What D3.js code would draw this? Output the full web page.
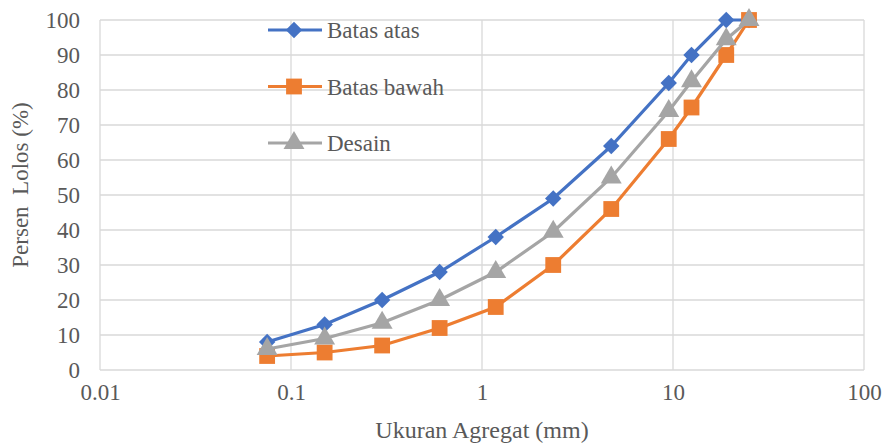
<!DOCTYPE html>
<html>
<head>
<meta charset="utf-8">
<script src="https://cdn.jsdelivr.net/npm/d3@7"></script>
<style>
  body { margin: 0; background: #fff; }
  svg text { font-family: "Liberation Serif", "Tinos", "Times New Roman", "DejaVu Serif", serif !important; fill: #595959; }
</style>
</head>
<body>
<div id="chart"></div>
<script>
// sieve sizes (mm) and percent passing
var sizes = [0.075, 0.15, 0.3, 0.6, 1.18, 2.36, 4.75, 9.5, 12.5, 19, 25];
var batasAtas = [8, 13, 20, 28, 38, 49, 64, 82, 90, 100, 100];
var batasBawah = [4, 5, 7, 12, 18, 30, 46, 66, 75, 90, 100];
var desain = [6, 9, 13.5, 20, 28, 39.5, 55, 74, 82.5, 94.5, 100];
var xTicks = [0.01, 0.1, 1, 10, 100];
var yTicks = [0, 10, 20, 30, 40, 50, 60, 70, 80, 90, 100];
var seriesNames = ["Batas atas", "Batas bawah", "Desain"];

var W = 887, H = 444;
var margin = {left: 100, right: 23, top: 20, bottom: 74};
var width = W - margin.left - margin.right,
    height = H - margin.top - margin.bottom;
var fs = "23px";
var font = "Liberation Serif";

var x = d3.scaleLog().domain([0.01, 100]).range([0, width]);
var y = d3.scaleLinear().domain([0, 100]).range([height, 0]);

var svg = d3.select("#chart").append("svg")
    .attr("width", W)
    .attr("height", H)
    .append("g")
    .attr("transform", "translate(" + margin.left + "," + margin.top + ")");

// gridlines
svg.selectAll(".hgrid")
    .data(yTicks)
    .enter()
    .append("line")
    .attr("x1", 0).attr("x2", width)
    .attr("y1", function(d) { return y(d); })
    .attr("y2", function(d) { return y(d); })
    .attr("stroke", "#d9d9d9").attr("stroke-width", 1.3);

svg.selectAll(".vgrid")
    .data(xTicks)
    .enter()
    .append("line")
    .attr("y1", 0).attr("y2", height)
    .attr("x1", function(d) { return x(d); })
    .attr("x2", function(d) { return x(d); })
    .attr("stroke", "#d9d9d9").attr("stroke-width", 1.3);

// axes
var xAxis = d3.axisBottom(x).tickValues(xTicks).tickSize(0).tickPadding(14)
    .tickFormat(function(d) { return String(d); });
var yAxis = d3.axisLeft(y).tickValues(yTicks).tickSize(0).tickPadding(20);

svg.append("g")
    .attr("transform", "translate(0," + height + ")")
    .call(xAxis)
    .attr("font-family", font)
    .call(function(g) { g.select(".domain").remove(); })
    .selectAll("text").style("font-size", fs);

svg.append("g")
    .call(yAxis)
    .attr("font-family", font)
    .call(function(g) { g.select(".domain").remove(); })
    .selectAll("text").style("font-size", fs);

svg.append("text")
    .attr("x", width / 2 - 0)
    .attr("y", height + 68)
    .attr("text-anchor", "middle")
    .style("font-size", "24px")
    .text("Ukuran Agregat (mm)");

svg.append("text")
    .attr("transform", "translate(-72," + (height / 2 - 10) + ") rotate(-90)")
    .attr("text-anchor", "middle")
    .style("font-size", fs)
    .attr("xml:space", "preserve")
    .text("Persen  Lolos (%)");

// diamond = square turned 45 degrees
var series = [
    {name: seriesNames[0], values: batasAtas, color: "#4472C4", symbol: d3.symbolSquare, size: 135, rot: 45},
    {name: seriesNames[1], values: batasBawah, color: "#ED7D31", symbol: d3.symbolSquare, size: 250, rot: 0},
    {name: seriesNames[2], values: desain, color: "#A5A5A5", symbol: d3.symbolTriangle, size: 190, rot: 0}
];

var line = d3.line()
    .x(function(d) { return x(d[0]); })
    .y(function(d) { return y(d[1]); });

// series drawn in order, last one ends up on top (like excel)
series.forEach(function(s) {
    var pts = sizes.map(function(v, i) { return [v, s.values[i]]; });
    svg.append("path")
        .datum(pts)
        .attr("d", line)
        .attr("fill", "none")
        .attr("stroke", s.color)
        .attr("stroke-width", 3.2);
    svg.selectAll(".m")
        .data(pts)
        .enter()
        .append("path")
        .attr("d", d3.symbol().type(s.symbol).size(s.size))
        .attr("transform", function(d) {
            return "translate(" + x(d[0]) + "," + y(d[1]) + ") rotate(" + s.rot + ")";
        })
        .attr("fill", s.color);
});

// legend
var legend = svg.append("g").attr("transform", "translate(168,10)");
series.forEach(function(s, i) {
    var g = legend.append("g").attr("transform", "translate(0," + (i * 56.5) + ")");
    g.append("line").attr("x1", 0).attr("x2", 54).attr("y1", 0).attr("y2", 0)
        .attr("stroke", s.color).attr("stroke-width", 3.2);
    g.append("path").attr("d", d3.symbol().type(s.symbol).size(s.size))
        .attr("transform", "translate(26,0) rotate(" + s.rot + ")").attr("fill", s.color);
    g.append("text").attr("x", 59).attr("y", 8)
        .style("font-size", fs).text(s.name);
});
</script>
</body>
</html>
